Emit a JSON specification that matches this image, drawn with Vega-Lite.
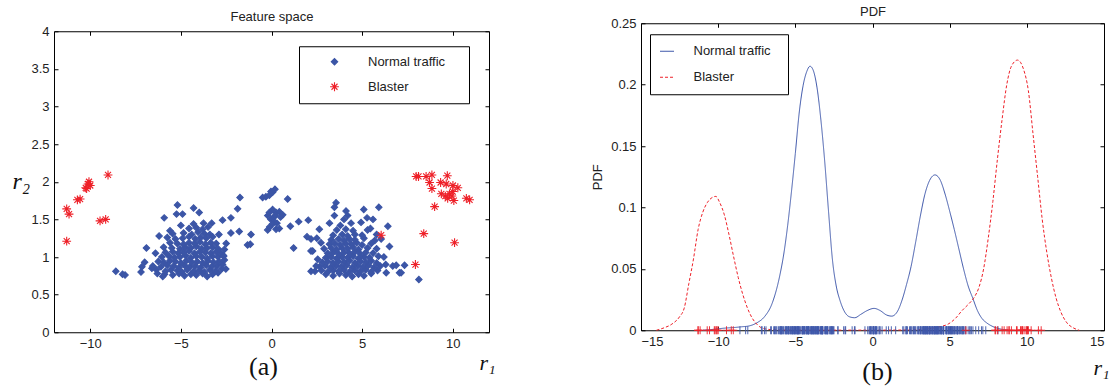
{
  "$schema": "https://vega.github.io/schema/vega-lite/v6.json",
  "padding": {"left": 11, "top": 0, "right": 0, "bottom": 0},
  "config": {
    "font": "Liberation Sans",
    "view": {"stroke": "#000", "strokeWidth": 1},
    "axis": {"grid": false, "domain": false, "tickColor": "#000", "tickSize": -4, "labelFontSize": 13, "labelFont": "Liberation Sans", "labelColor": "#222", "labelPadding": 9, "titleFontWeight": "normal", "titleColor": "#222"},
    "title": {"fontWeight": "normal", "color": "#111"}
  },
  "center": true,
  "spacing": 95,
  "resolve": {
    "scale": {"shape": "independent", "fill": "independent", "stroke": "independent", "color": "independent", "strokeDash": "independent"},
    "legend": {"shape": "independent", "fill": "independent", "stroke": "independent", "color": "independent", "strokeDash": "independent"}
  },
  "datasets": {
    "pts": [
      {"series":"Normal traffic","r1":-5.9,"r2":0.77},{"series":"Normal traffic","r1":-5.45,"r2":0.76},{"series":"Normal traffic","r1":-5.1,"r2":0.78},{"series":"Normal traffic","r1":-4.8,"r2":0.75},{"series":"Normal traffic","r1":-4.45,"r2":0.77},{"series":"Normal traffic","r1":-4.15,"r2":0.76},{"series":"Normal traffic","r1":-3.8,"r2":0.78},{"series":"Normal traffic","r1":-3.55,"r2":0.74},{"series":"Normal traffic","r1":-3.25,"r2":0.77},{"series":"Normal traffic","r1":-2.95,"r2":0.79},
      {"series":"Normal traffic","r1":-6.35,"r2":0.83},{"series":"Normal traffic","r1":-5.85,"r2":0.81},{"series":"Normal traffic","r1":-5.55,"r2":0.83},{"series":"Normal traffic","r1":-5.2,"r2":0.82},{"series":"Normal traffic","r1":-4.95,"r2":0.8},{"series":"Normal traffic","r1":-4.65,"r2":0.83},{"series":"Normal traffic","r1":-4.3,"r2":0.81},{"series":"Normal traffic","r1":-4.0,"r2":0.82},{"series":"Normal traffic","r1":-3.7,"r2":0.8},{"series":"Normal traffic","r1":-3.4,"r2":0.83},{"series":"Normal traffic","r1":-3.1,"r2":0.81},{"series":"Normal traffic","r1":-2.75,"r2":0.84},
      {"series":"Normal traffic","r1":-6.55,"r2":0.88},{"series":"Normal traffic","r1":-6.1,"r2":0.87},{"series":"Normal traffic","r1":-5.75,"r2":0.89},{"series":"Normal traffic","r1":-5.4,"r2":0.88},{"series":"Normal traffic","r1":-5.1,"r2":0.86},{"series":"Normal traffic","r1":-4.8,"r2":0.89},{"series":"Normal traffic","r1":-4.5,"r2":0.87},{"series":"Normal traffic","r1":-4.2,"r2":0.88},{"series":"Normal traffic","r1":-3.9,"r2":0.86},{"series":"Normal traffic","r1":-3.6,"r2":0.89},{"series":"Normal traffic","r1":-3.3,"r2":0.87},{"series":"Normal traffic","r1":-3.0,"r2":0.88},{"series":"Normal traffic","r1":-2.7,"r2":0.9},
      {"series":"Normal traffic","r1":-6.25,"r2":0.94},{"series":"Normal traffic","r1":-5.95,"r2":0.93},{"series":"Normal traffic","r1":-5.6,"r2":0.95},{"series":"Normal traffic","r1":-5.3,"r2":0.94},{"series":"Normal traffic","r1":-5.0,"r2":0.92},{"series":"Normal traffic","r1":-4.7,"r2":0.95},{"series":"Normal traffic","r1":-4.4,"r2":0.93},{"series":"Normal traffic","r1":-4.1,"r2":0.94},{"series":"Normal traffic","r1":-3.8,"r2":0.92},{"series":"Normal traffic","r1":-3.5,"r2":0.95},{"series":"Normal traffic","r1":-3.2,"r2":0.93},{"series":"Normal traffic","r1":-2.9,"r2":0.94},{"series":"Normal traffic","r1":-2.6,"r2":0.96},
      {"series":"Normal traffic","r1":-6.05,"r2":1.0},{"series":"Normal traffic","r1":-5.65,"r2":1.01},{"series":"Normal traffic","r1":-5.35,"r2":0.99},{"series":"Normal traffic","r1":-5.05,"r2":1.0},{"series":"Normal traffic","r1":-4.75,"r2":1.02},{"series":"Normal traffic","r1":-4.45,"r2":0.99},{"series":"Normal traffic","r1":-4.15,"r2":1.01},{"series":"Normal traffic","r1":-3.85,"r2":1.0},{"series":"Normal traffic","r1":-3.55,"r2":0.98},{"series":"Normal traffic","r1":-3.25,"r2":1.01},{"series":"Normal traffic","r1":-2.95,"r2":1.0},{"series":"Normal traffic","r1":-2.65,"r2":1.02},
      {"series":"Normal traffic","r1":-5.85,"r2":1.06},{"series":"Normal traffic","r1":-5.45,"r2":1.07},{"series":"Normal traffic","r1":-5.15,"r2":1.05},{"series":"Normal traffic","r1":-4.85,"r2":1.06},{"series":"Normal traffic","r1":-4.55,"r2":1.08},{"series":"Normal traffic","r1":-4.25,"r2":1.05},{"series":"Normal traffic","r1":-3.95,"r2":1.07},{"series":"Normal traffic","r1":-3.65,"r2":1.06},{"series":"Normal traffic","r1":-3.35,"r2":1.05},{"series":"Normal traffic","r1":-3.05,"r2":1.07},{"series":"Normal traffic","r1":-2.8,"r2":1.05},
      {"series":"Normal traffic","r1":-5.95,"r2":1.13},{"series":"Normal traffic","r1":-5.5,"r2":1.12},{"series":"Normal traffic","r1":-5.05,"r2":1.11},{"series":"Normal traffic","r1":-4.75,"r2":1.13},{"series":"Normal traffic","r1":-4.45,"r2":1.12},{"series":"Normal traffic","r1":-4.15,"r2":1.14},{"series":"Normal traffic","r1":-3.85,"r2":1.11},{"series":"Normal traffic","r1":-3.55,"r2":1.12},{"series":"Normal traffic","r1":-3.25,"r2":1.13},{"series":"Normal traffic","r1":-2.95,"r2":1.11},
      {"series":"Normal traffic","r1":-5.6,"r2":1.19},{"series":"Normal traffic","r1":-5.2,"r2":1.18},{"series":"Normal traffic","r1":-4.85,"r2":1.17},{"series":"Normal traffic","r1":-4.55,"r2":1.19},{"series":"Normal traffic","r1":-4.25,"r2":1.18},{"series":"Normal traffic","r1":-3.95,"r2":1.2},{"series":"Normal traffic","r1":-3.65,"r2":1.17},{"series":"Normal traffic","r1":-3.35,"r2":1.19},{"series":"Normal traffic","r1":-3.05,"r2":1.18},
      {"series":"Normal traffic","r1":-5.75,"r2":1.26},{"series":"Normal traffic","r1":-5.3,"r2":1.24},{"series":"Normal traffic","r1":-4.9,"r2":1.25},{"series":"Normal traffic","r1":-4.55,"r2":1.27},{"series":"Normal traffic","r1":-4.2,"r2":1.24},{"series":"Normal traffic","r1":-3.9,"r2":1.26},{"series":"Normal traffic","r1":-3.6,"r2":1.25},{"series":"Normal traffic","r1":-3.25,"r2":1.27},
      {"series":"Normal traffic","r1":-5.45,"r2":1.31},{"series":"Normal traffic","r1":-4.85,"r2":1.32},{"series":"Normal traffic","r1":-4.4,"r2":1.3},{"series":"Normal traffic","r1":-4.05,"r2":1.33},{"series":"Normal traffic","r1":-3.7,"r2":1.31},{"series":"Normal traffic","r1":-3.4,"r2":1.3},
      {"series":"Normal traffic","r1":-4.55,"r2":1.38},{"series":"Normal traffic","r1":-4.15,"r2":1.39},{"series":"Normal traffic","r1":-3.8,"r2":1.37},{"series":"Normal traffic","r1":-3.5,"r2":1.4},{"series":"Normal traffic","r1":-4.3,"r2":1.44},{"series":"Normal traffic","r1":-3.75,"r2":1.45},
      {"series":"Normal traffic","r1":-8.59,"r2":0.81},{"series":"Normal traffic","r1":-8.22,"r2":0.77},{"series":"Normal traffic","r1":-8.08,"r2":0.76},{"series":"Normal traffic","r1":-7.2,"r2":0.8},{"series":"Normal traffic","r1":-7.15,"r2":0.87},{"series":"Normal traffic","r1":-7.0,"r2":0.93},{"series":"Normal traffic","r1":-6.9,"r2":1.12},{"series":"Normal traffic","r1":-6.6,"r2":0.85},{"series":"Normal traffic","r1":-6.3,"r2":0.78},{"series":"Normal traffic","r1":-6.0,"r2":0.74},{"series":"Normal traffic","r1":-6.4,"r2":1.05},{"series":"Normal traffic","r1":-6.2,"r2":1.28},{"series":"Normal traffic","r1":-5.92,"r2":1.52},{"series":"Normal traffic","r1":-5.24,"r2":1.57},{"series":"Normal traffic","r1":-5.19,"r2":1.69},{"series":"Normal traffic","r1":-4.3,"r2":1.65},{"series":"Normal traffic","r1":-3.99,"r2":1.59},{"series":"Normal traffic","r1":-4.91,"r2":1.57},{"series":"Normal traffic","r1":-2.7,"r2":1.49},{"series":"Normal traffic","r1":-2.24,"r2":1.52},{"series":"Normal traffic","r1":-1.87,"r2":1.64},{"series":"Normal traffic","r1":-1.74,"r2":1.79},{"series":"Normal traffic","r1":-2.24,"r2":1.32},{"series":"Normal traffic","r1":-1.78,"r2":1.34},{"series":"Normal traffic","r1":-1.13,"r2":1.3},{"series":"Normal traffic","r1":-1.32,"r2":1.16},{"series":"Normal traffic","r1":-1.17,"r2":1.17},{"series":"Normal traffic","r1":-2.52,"r2":0.84},{"series":"Normal traffic","r1":-2.64,"r2":1.01},{"series":"Normal traffic","r1":-2.5,"r2":1.18},{"series":"Normal traffic","r1":-2.9,"r2":1.3},{"series":"Normal traffic","r1":-5.0,"r2":1.42},{"series":"Normal traffic","r1":-5.6,"r2":1.35},{"series":"Normal traffic","r1":-3.3,"r2":1.45},{"series":"Normal traffic","r1":-2.6,"r2":1.1},
      {"series":"Normal traffic","r1":-0.49,"r2":1.79},{"series":"Normal traffic","r1":-0.31,"r2":1.8},{"series":"Normal traffic","r1":-0.12,"r2":1.82},{"series":"Normal traffic","r1":0.06,"r2":1.86},{"series":"Normal traffic","r1":0.19,"r2":1.9},{"series":"Normal traffic","r1":-0.03,"r2":1.87},{"series":"Normal traffic","r1":-0.21,"r2":1.55},{"series":"Normal traffic","r1":-0.12,"r2":1.59},{"series":"Normal traffic","r1":0.06,"r2":1.63},{"series":"Normal traffic","r1":0.25,"r2":1.59},{"series":"Normal traffic","r1":0.43,"r2":1.6},{"series":"Normal traffic","r1":0.62,"r2":1.56},{"series":"Normal traffic","r1":-0.03,"r2":1.5},{"series":"Normal traffic","r1":0.15,"r2":1.47},{"series":"Normal traffic","r1":0.06,"r2":1.44},{"series":"Normal traffic","r1":-0.21,"r2":1.36},{"series":"Normal traffic","r1":0.25,"r2":1.37},{"series":"Normal traffic","r1":0.43,"r2":1.38},{"series":"Normal traffic","r1":0.89,"r2":1.77},{"series":"Normal traffic","r1":1.04,"r2":1.41},{"series":"Normal traffic","r1":1.22,"r2":1.12},{"series":"Normal traffic","r1":1.5,"r2":1.47},{"series":"Normal traffic","r1":2.03,"r2":1.49},{"series":"Normal traffic","r1":1.96,"r2":1.27},{"series":"Normal traffic","r1":2.18,"r2":1.24},{"series":"Normal traffic","r1":2.18,"r2":1.08},{"series":"Normal traffic","r1":0.1,"r2":1.52},{"series":"Normal traffic","r1":0.3,"r2":1.45},{"series":"Normal traffic","r1":-0.1,"r2":1.4},{"series":"Normal traffic","r1":0.2,"r2":1.55},{"series":"Normal traffic","r1":0.5,"r2":1.53},
      {"series":"Normal traffic","r1":3.0,"r2":0.77},{"series":"Normal traffic","r1":3.4,"r2":0.75},{"series":"Normal traffic","r1":3.75,"r2":0.78},{"series":"Normal traffic","r1":4.1,"r2":0.76},{"series":"Normal traffic","r1":4.45,"r2":0.74},{"series":"Normal traffic","r1":4.8,"r2":0.77},{"series":"Normal traffic","r1":5.1,"r2":0.75},{"series":"Normal traffic","r1":5.5,"r2":0.78},
      {"series":"Normal traffic","r1":2.4,"r2":0.81},{"series":"Normal traffic","r1":2.75,"r2":0.82},{"series":"Normal traffic","r1":3.1,"r2":0.8},{"series":"Normal traffic","r1":3.4,"r2":0.82},{"series":"Normal traffic","r1":3.7,"r2":0.81},{"series":"Normal traffic","r1":4.0,"r2":0.83},{"series":"Normal traffic","r1":4.3,"r2":0.8},{"series":"Normal traffic","r1":4.6,"r2":0.82},{"series":"Normal traffic","r1":4.9,"r2":0.81},{"series":"Normal traffic","r1":5.2,"r2":0.83},{"series":"Normal traffic","r1":5.5,"r2":0.8},{"series":"Normal traffic","r1":5.85,"r2":0.82},
      {"series":"Normal traffic","r1":2.65,"r2":0.87},{"series":"Normal traffic","r1":2.95,"r2":0.88},{"series":"Normal traffic","r1":3.25,"r2":0.86},{"series":"Normal traffic","r1":3.55,"r2":0.88},{"series":"Normal traffic","r1":3.85,"r2":0.87},{"series":"Normal traffic","r1":4.15,"r2":0.89},{"series":"Normal traffic","r1":4.45,"r2":0.86},{"series":"Normal traffic","r1":4.75,"r2":0.88},{"series":"Normal traffic","r1":5.05,"r2":0.87},{"series":"Normal traffic","r1":5.35,"r2":0.89},{"series":"Normal traffic","r1":5.65,"r2":0.86},{"series":"Normal traffic","r1":6.0,"r2":0.88},
      {"series":"Normal traffic","r1":2.8,"r2":0.93},{"series":"Normal traffic","r1":3.1,"r2":0.94},{"series":"Normal traffic","r1":3.4,"r2":0.92},{"series":"Normal traffic","r1":3.7,"r2":0.94},{"series":"Normal traffic","r1":4.0,"r2":0.93},{"series":"Normal traffic","r1":4.3,"r2":0.95},{"series":"Normal traffic","r1":4.6,"r2":0.92},{"series":"Normal traffic","r1":4.9,"r2":0.94},{"series":"Normal traffic","r1":5.2,"r2":0.93},{"series":"Normal traffic","r1":5.5,"r2":0.95},{"series":"Normal traffic","r1":5.8,"r2":0.92},
      {"series":"Normal traffic","r1":3.0,"r2":0.99},{"series":"Normal traffic","r1":3.3,"r2":1.0},{"series":"Normal traffic","r1":3.6,"r2":0.98},{"series":"Normal traffic","r1":3.9,"r2":1.0},{"series":"Normal traffic","r1":4.2,"r2":0.99},{"series":"Normal traffic","r1":4.5,"r2":1.01},{"series":"Normal traffic","r1":4.8,"r2":0.98},{"series":"Normal traffic","r1":5.1,"r2":1.0},{"series":"Normal traffic","r1":5.4,"r2":0.99},{"series":"Normal traffic","r1":5.9,"r2":1.01},
      {"series":"Normal traffic","r1":3.1,"r2":1.05},{"series":"Normal traffic","r1":3.4,"r2":1.06},{"series":"Normal traffic","r1":3.7,"r2":1.04},{"series":"Normal traffic","r1":4.0,"r2":1.06},{"series":"Normal traffic","r1":4.3,"r2":1.05},{"series":"Normal traffic","r1":4.6,"r2":1.07},{"series":"Normal traffic","r1":4.9,"r2":1.04},{"series":"Normal traffic","r1":5.2,"r2":1.06},{"series":"Normal traffic","r1":5.6,"r2":1.05},
      {"series":"Normal traffic","r1":2.9,"r2":1.11},{"series":"Normal traffic","r1":3.3,"r2":1.12},{"series":"Normal traffic","r1":3.6,"r2":1.1},{"series":"Normal traffic","r1":3.9,"r2":1.12},{"series":"Normal traffic","r1":4.2,"r2":1.11},{"series":"Normal traffic","r1":4.5,"r2":1.13},{"series":"Normal traffic","r1":4.8,"r2":1.1},{"series":"Normal traffic","r1":5.3,"r2":1.12},{"series":"Normal traffic","r1":5.8,"r2":1.11},
      {"series":"Normal traffic","r1":3.2,"r2":1.17},{"series":"Normal traffic","r1":3.5,"r2":1.18},{"series":"Normal traffic","r1":3.8,"r2":1.16},{"series":"Normal traffic","r1":4.1,"r2":1.18},{"series":"Normal traffic","r1":4.4,"r2":1.17},{"series":"Normal traffic","r1":4.7,"r2":1.19},{"series":"Normal traffic","r1":5.0,"r2":1.16},{"series":"Normal traffic","r1":5.5,"r2":1.18},
      {"series":"Normal traffic","r1":3.3,"r2":1.23},{"series":"Normal traffic","r1":3.7,"r2":1.24},{"series":"Normal traffic","r1":4.0,"r2":1.22},{"series":"Normal traffic","r1":4.3,"r2":1.24},{"series":"Normal traffic","r1":4.6,"r2":1.23},{"series":"Normal traffic","r1":5.1,"r2":1.25},{"series":"Normal traffic","r1":5.7,"r2":1.22},
      {"series":"Normal traffic","r1":3.4,"r2":1.29},{"series":"Normal traffic","r1":3.9,"r2":1.3},{"series":"Normal traffic","r1":4.2,"r2":1.28},{"series":"Normal traffic","r1":4.6,"r2":1.3},{"series":"Normal traffic","r1":5.0,"r2":1.29},{"series":"Normal traffic","r1":3.6,"r2":1.36},{"series":"Normal traffic","r1":4.1,"r2":1.37},{"series":"Normal traffic","r1":4.5,"r2":1.35},{"series":"Normal traffic","r1":5.3,"r2":1.36},
      {"series":"Normal traffic","r1":3.56,"r2":1.72},{"series":"Normal traffic","r1":3.47,"r2":1.66},{"series":"Normal traffic","r1":4.11,"r2":1.61},{"series":"Normal traffic","r1":4.2,"r2":1.55},{"series":"Normal traffic","r1":5.09,"r2":1.63},{"series":"Normal traffic","r1":5.27,"r2":1.52},{"series":"Normal traffic","r1":5.92,"r2":1.66},{"series":"Normal traffic","r1":6.42,"r2":1.41},{"series":"Normal traffic","r1":2.64,"r2":1.37},{"series":"Normal traffic","r1":2.73,"r2":1.19},{"series":"Normal traffic","r1":3.47,"r2":1.55},{"series":"Normal traffic","r1":4.39,"r2":1.45},{"series":"Normal traffic","r1":4.94,"r2":1.46},{"series":"Normal traffic","r1":5.46,"r2":1.38},{"series":"Normal traffic","r1":6.05,"r2":1.24},{"series":"Normal traffic","r1":6.51,"r2":1.14},{"series":"Normal traffic","r1":6.69,"r2":0.88},{"series":"Normal traffic","r1":6.88,"r2":0.89},{"series":"Normal traffic","r1":7.06,"r2":0.79},{"series":"Normal traffic","r1":7.34,"r2":0.89},{"series":"Normal traffic","r1":7.15,"r2":0.79},{"series":"Normal traffic","r1":8.13,"r2":0.7},{"series":"Normal traffic","r1":6.33,"r2":0.79},{"series":"Normal traffic","r1":2.18,"r2":0.81},{"series":"Normal traffic","r1":2.46,"r2":0.88},{"series":"Normal traffic","r1":2.55,"r2":0.97},{"series":"Normal traffic","r1":2.27,"r2":1.08},{"series":"Normal traffic","r1":4.0,"r2":1.5},{"series":"Normal traffic","r1":3.2,"r2":1.45},{"series":"Normal traffic","r1":5.6,"r2":1.5},{"series":"Normal traffic","r1":6.2,"r2":1.0},{"series":"Normal traffic","r1":6.3,"r2":0.9},{"series":"Normal traffic","r1":2.5,"r2":1.25},{"series":"Normal traffic","r1":3.8,"r2":1.42},{"series":"Normal traffic","r1":5.8,"r2":1.3},
      {"series":"Blaster","r1":-11.3,"r2":1.64},{"series":"Blaster","r1":-11.17,"r2":1.57},{"series":"Blaster","r1":-11.3,"r2":1.21},{"series":"Blaster","r1":-10.71,"r2":1.76},{"series":"Blaster","r1":-10.56,"r2":1.77},{"series":"Blaster","r1":-10.25,"r2":1.92},{"series":"Blaster","r1":-10.12,"r2":1.97},{"series":"Blaster","r1":-10.07,"r2":2.0},{"series":"Blaster","r1":-10.2,"r2":1.91},{"series":"Blaster","r1":-10.0,"r2":1.95},{"series":"Blaster","r1":-9.02,"r2":2.09},{"series":"Blaster","r1":-9.46,"r2":1.48},{"series":"Blaster","r1":-9.15,"r2":1.5},
      {"series":"Blaster","r1":6.05,"r2":1.29},{"series":"Blaster","r1":7.94,"r2":0.9},{"series":"Blaster","r1":8.4,"r2":1.31},{"series":"Blaster","r1":10.1,"r2":1.19},{"series":"Blaster","r1":7.98,"r2":2.07},{"series":"Blaster","r1":8.11,"r2":2.07},{"series":"Blaster","r1":8.53,"r2":2.07},{"series":"Blaster","r1":8.85,"r2":2.09},{"series":"Blaster","r1":8.72,"r2":1.99},{"series":"Blaster","r1":8.85,"r2":1.91},{"series":"Blaster","r1":9.33,"r2":1.99},{"series":"Blaster","r1":9.7,"r2":2.08},{"series":"Blaster","r1":9.64,"r2":1.97},{"series":"Blaster","r1":10.01,"r2":1.95},{"series":"Blaster","r1":10.28,"r2":1.92},{"series":"Blaster","r1":9.37,"r2":1.84},{"series":"Blaster","r1":9.59,"r2":1.81},{"series":"Blaster","r1":9.82,"r2":1.84},{"series":"Blaster","r1":9.95,"r2":1.81},{"series":"Blaster","r1":10.06,"r2":1.75},{"series":"Blaster","r1":9.0,"r2":1.67},{"series":"Blaster","r1":10.75,"r2":1.78},{"series":"Blaster","r1":10.93,"r2":1.76},{"series":"Blaster","r1":9.72,"r2":1.78},{"series":"Blaster","r1":10.0,"r2":1.87}
    ],
    "pdf": [
      {"series":"Normal traffic","r1":-11,"pdf":0},{"series":"Normal traffic","r1":-10.5,"pdf":0.0005},{"series":"Normal traffic","r1":-10,"pdf":0.0012},{"series":"Normal traffic","r1":-9.5,"pdf":0.0018},{"series":"Normal traffic","r1":-9,"pdf":0.0022},{"series":"Normal traffic","r1":-8.5,"pdf":0.0028},{"series":"Normal traffic","r1":-8,"pdf":0.0035},{"series":"Normal traffic","r1":-7.5,"pdf":0.006},{"series":"Normal traffic","r1":-7,"pdf":0.011},{"series":"Normal traffic","r1":-6.5,"pdf":0.022},{"series":"Normal traffic","r1":-6,"pdf":0.045},{"series":"Normal traffic","r1":-5.75,"pdf":0.062},{"series":"Normal traffic","r1":-5.5,"pdf":0.085},{"series":"Normal traffic","r1":-5.25,"pdf":0.113},{"series":"Normal traffic","r1":-5,"pdf":0.144},{"series":"Normal traffic","r1":-4.75,"pdf":0.177},{"series":"Normal traffic","r1":-4.5,"pdf":0.199},{"series":"Normal traffic","r1":-4.25,"pdf":0.211},{"series":"Normal traffic","r1":-4.05,"pdf":0.215},{"series":"Normal traffic","r1":-3.85,"pdf":0.212},{"series":"Normal traffic","r1":-3.6,"pdf":0.198},{"series":"Normal traffic","r1":-3.35,"pdf":0.172},{"series":"Normal traffic","r1":-3.1,"pdf":0.138},{"series":"Normal traffic","r1":-2.85,"pdf":0.097},{"series":"Normal traffic","r1":-2.6,"pdf":0.058},{"series":"Normal traffic","r1":-2.35,"pdf":0.036},{"series":"Normal traffic","r1":-2.1,"pdf":0.024},{"series":"Normal traffic","r1":-1.85,"pdf":0.016},{"series":"Normal traffic","r1":-1.5,"pdf":0.011},{"series":"Normal traffic","r1":-1.15,"pdf":0.0102},{"series":"Normal traffic","r1":-0.75,"pdf":0.013},{"series":"Normal traffic","r1":-0.35,"pdf":0.016},{"series":"Normal traffic","r1":0.1,"pdf":0.0178},{"series":"Normal traffic","r1":0.5,"pdf":0.016},{"series":"Normal traffic","r1":0.9,"pdf":0.0125},{"series":"Normal traffic","r1":1.25,"pdf":0.0115},{"series":"Normal traffic","r1":1.6,"pdf":0.015},{"series":"Normal traffic","r1":1.9,"pdf":0.024},{"series":"Normal traffic","r1":2.2,"pdf":0.037},{"series":"Normal traffic","r1":2.5,"pdf":0.052},{"series":"Normal traffic","r1":2.8,"pdf":0.072},{"series":"Normal traffic","r1":3.1,"pdf":0.093},{"series":"Normal traffic","r1":3.4,"pdf":0.111},{"series":"Normal traffic","r1":3.7,"pdf":0.122},{"series":"Normal traffic","r1":4.05,"pdf":0.1265},{"series":"Normal traffic","r1":4.4,"pdf":0.122},{"series":"Normal traffic","r1":4.7,"pdf":0.111},{"series":"Normal traffic","r1":5,"pdf":0.097},{"series":"Normal traffic","r1":5.3,"pdf":0.082},{"series":"Normal traffic","r1":5.6,"pdf":0.066},{"series":"Normal traffic","r1":5.9,"pdf":0.05},{"series":"Normal traffic","r1":6.2,"pdf":0.036},{"series":"Normal traffic","r1":6.5,"pdf":0.026},{"series":"Normal traffic","r1":6.8,"pdf":0.016},{"series":"Normal traffic","r1":7.1,"pdf":0.0095},{"series":"Normal traffic","r1":7.4,"pdf":0.006},{"series":"Normal traffic","r1":7.8,"pdf":0.003},{"series":"Normal traffic","r1":8.3,"pdf":0.001},{"series":"Normal traffic","r1":8.8,"pdf":0},
      {"series":"Blaster","r1":-14,"pdf":0},{"series":"Blaster","r1":-13.5,"pdf":0.002},{"series":"Blaster","r1":-13,"pdf":0.005},{"series":"Blaster","r1":-12.5,"pdf":0.011},{"series":"Blaster","r1":-12.2,"pdf":0.018},{"series":"Blaster","r1":-11.9,"pdf":0.038},{"series":"Blaster","r1":-11.6,"pdf":0.058},{"series":"Blaster","r1":-11.3,"pdf":0.082},{"series":"Blaster","r1":-11,"pdf":0.096},{"series":"Blaster","r1":-10.7,"pdf":0.104},{"series":"Blaster","r1":-10.4,"pdf":0.108},{"series":"Blaster","r1":-10.15,"pdf":0.109},{"series":"Blaster","r1":-9.9,"pdf":0.104},{"series":"Blaster","r1":-9.6,"pdf":0.094},{"series":"Blaster","r1":-9.3,"pdf":0.078},{"series":"Blaster","r1":-9,"pdf":0.06},{"series":"Blaster","r1":-8.7,"pdf":0.043},{"series":"Blaster","r1":-8.4,"pdf":0.029},{"series":"Blaster","r1":-8.1,"pdf":0.018},{"series":"Blaster","r1":-7.8,"pdf":0.01},{"series":"Blaster","r1":-7.5,"pdf":0.005},{"series":"Blaster","r1":-7.2,"pdf":0.002},{"series":"Blaster","r1":-6.8,"pdf":0.0008},{"series":"Blaster","r1":-6,"pdf":0.0002},{"series":"Blaster","r1":-4,"pdf":0.0001},{"series":"Blaster","r1":-2,"pdf":0.0001},{"series":"Blaster","r1":0,"pdf":0.0001},{"series":"Blaster","r1":2,"pdf":0.0002},{"series":"Blaster","r1":3,"pdf":0.0005},{"series":"Blaster","r1":3.8,"pdf":0.0015},{"series":"Blaster","r1":4.4,"pdf":0.003},{"series":"Blaster","r1":4.9,"pdf":0.005},{"series":"Blaster","r1":5.4,"pdf":0.01},{"series":"Blaster","r1":5.8,"pdf":0.016},{"series":"Blaster","r1":6.2,"pdf":0.021},{"series":"Blaster","r1":6.6,"pdf":0.027},{"series":"Blaster","r1":6.9,"pdf":0.035},{"series":"Blaster","r1":7.2,"pdf":0.05},{"series":"Blaster","r1":7.5,"pdf":0.075},{"series":"Blaster","r1":7.8,"pdf":0.105},{"series":"Blaster","r1":8.1,"pdf":0.14},{"series":"Blaster","r1":8.4,"pdf":0.172},{"series":"Blaster","r1":8.7,"pdf":0.2},{"series":"Blaster","r1":9,"pdf":0.215},{"series":"Blaster","r1":9.4,"pdf":0.22},{"series":"Blaster","r1":9.8,"pdf":0.212},{"series":"Blaster","r1":10.1,"pdf":0.195},{"series":"Blaster","r1":10.4,"pdf":0.16},{"series":"Blaster","r1":10.7,"pdf":0.125},{"series":"Blaster","r1":11,"pdf":0.09},{"series":"Blaster","r1":11.3,"pdf":0.063},{"series":"Blaster","r1":11.6,"pdf":0.042},{"series":"Blaster","r1":11.9,"pdf":0.026},{"series":"Blaster","r1":12.2,"pdf":0.015},{"series":"Blaster","r1":12.6,"pdf":0.006},{"series":"Blaster","r1":13,"pdf":0.002},{"series":"Blaster","r1":13.4,"pdf":0}
    ]
  },
  "hconcat": [
    {
      "resolve": {
        "scale": {"shape": "independent", "fill": "independent", "stroke": "independent"},
        "legend": {"shape": "independent", "fill": "independent", "stroke": "independent"}
      },
      "vconcat": [
        {
          "width": 435,
          "height": 301,
          "title": {"text": "(a)", "orient": "bottom", "frame": "group", "anchor": "middle", "font": "Liberation Serif", "fontSize": 26, "fontWeight": "normal", "color": "#111", "offset": -19, "dx": -8},
          "layer": [
            {
              "data": {"name": "pts"},
              "mark": {"type": "point", "size": 64, "strokeWidth": 1.1, "opacity": 1},
              "encoding": {
                "x": {"field": "r1", "type": "quantitative", "scale": {"domain": [-12, 12], "nice": false, "zero": false},
                  "axis": {"orient": "bottom", "values": [-10, -5, 0, 5, 10], "title": "r₁", "titleX": 425, "titleY": 30, "titleAlign": "left", "titleBaseline": "middle", "titleAngle": 0, "titleFont": "Liberation Serif", "titleFontStyle": "italic", "titleFontSize": 22, "titleColor": "#111"}},
                "y": {"field": "r2", "type": "quantitative", "scale": {"domain": [0, 4], "nice": false, "zero": false},
                  "axis": {"orient": "left", "values": [0, 0.5, 1, 1.5, 2, 2.5, 3, 3.5, 4], "format": "~g", "title": "r₂", "titleX": -42, "titleY": 150, "titleAlign": "left", "titleBaseline": "middle", "titleAngle": 0, "titleFont": "Liberation Serif", "titleFontStyle": "italic", "titleFontSize": 24, "titleColor": "#111"}},
                "shape": {"field": "series", "type": "nominal", "scale": {"domain": ["Normal traffic", "Blaster"], "range": ["M-0.8,0L0,-0.8L0.8,0L0,0.8Z", "M-1.1,0L1.1,0M0,-1.1L0,1.1M-0.75,-0.75L0.75,0.75M-0.75,0.75L0.75,-0.75"]},
                  "legend": {"orient": "none", "legendX": 245, "legendY": 15, "title": "\u00a0", "titleOrient": "right", "titlePadding": 15, "strokeColor": "#000", "fillColor": "#fff", "padding": 9, "rowPadding": 10, "symbolOffset": 20, "labelOffset": 27, "labelFontSize": 13, "labelFont": "Liberation Sans", "labelColor": "#222", "symbolSize": 64, "symbolStrokeWidth": 1.1}},
                "fill": {"field": "series", "type": "nominal", "scale": {"domain": ["Normal traffic", "Blaster"], "range": ["#3b55a6", "transparent"]},
                  "legend": {"orient": "none", "legendX": 245, "legendY": 15, "title": "\u00a0", "titleOrient": "right", "titlePadding": 15, "strokeColor": "#000", "fillColor": "#fff", "padding": 9, "rowPadding": 10, "symbolOffset": 20, "labelOffset": 27, "labelFontSize": 13, "labelFont": "Liberation Sans", "labelColor": "#222", "symbolSize": 64, "symbolStrokeWidth": 1.1}},
                "stroke": {"field": "series", "type": "nominal", "scale": {"domain": ["Normal traffic", "Blaster"], "range": ["#3b55a6", "#ee2028"]},
                  "legend": {"orient": "none", "legendX": 245, "legendY": 15, "title": "\u00a0", "titleOrient": "right", "titlePadding": 15, "strokeColor": "#000", "fillColor": "#fff", "padding": 9, "rowPadding": 10, "symbolOffset": 20, "labelOffset": 27, "labelFontSize": 13, "labelFont": "Liberation Sans", "labelColor": "#222", "symbolSize": 64, "symbolStrokeWidth": 1.1}}
              }
            },
            {
              "data": {"name": "pts"},
              "mark": {"type": "point", "opacity": 0},
              "encoding": {
                "x": {"field": "r1", "type": "quantitative", "scale": {"domain": [-12, 12], "nice": false, "zero": false},
                  "axis": {"orient": "top", "values": [-10, -5, 0, 5, 10], "labelOpacity": 0, "labelPadding": 20, "title": "Feature space", "titleY": -15, "titleBaseline": "middle", "titleFont": "Liberation Sans", "titleFontSize": 13, "titleFontWeight": "normal", "titleColor": "#222"}},
                "y": {"field": "r2", "type": "quantitative", "scale": {"domain": [0, 4], "nice": false, "zero": false},
                  "axis": {"orient": "right", "values": [0, 0.5, 1, 1.5, 2, 2.5, 3, 3.5, 4], "labels": false, "title": null}}
              }
            }
          ]
        }
      ]
    },
    {
      "resolve": {
        "scale": {"color": "independent", "strokeDash": "independent"},
        "legend": {"color": "independent", "strokeDash": "independent"}
      },
      "vconcat": [
        {
          "width": 463,
          "height": 307,
          "title": {"text": "(b)", "subtitle": "\u00a0", "subtitleFontSize": 2, "subtitlePadding": 1, "orient": "bottom", "frame": "group", "anchor": "middle", "font": "Liberation Serif", "fontSize": 26, "fontWeight": "normal", "color": "#111", "offset": -19, "dx": 5},
          "layer": [
            {
              "data": {"name": "pdf"},
              "mark": {"type": "line", "strokeWidth": 1, "interpolate": "monotone"},
              "encoding": {
                "x": {"field": "r1", "type": "quantitative", "scale": {"domain": [-15, 15], "nice": false, "zero": false},
                  "axis": {"orient": "bottom", "values": [-15, -10, -5, 0, 5, 10, 15], "title": "r₁", "titleX": 452, "titleY": 37, "titleAlign": "left", "titleBaseline": "middle", "titleAngle": 0, "titleFont": "Liberation Serif", "titleFontStyle": "italic", "titleFontSize": 22, "titleColor": "#111"}},
                "y": {"field": "pdf", "type": "quantitative", "scale": {"domain": [0, 0.25], "nice": false, "zero": false},
                  "axis": {"orient": "left", "values": [0, 0.05, 0.1, 0.15, 0.2, 0.25], "format": "~g", "title": "PDF", "titleFont": "Liberation Sans", "titleFontSize": 13, "titlePadding": 6}},
                "color": {"field": "series", "type": "nominal", "scale": {"domain": ["Normal traffic", "Blaster"], "range": ["#3f58ab", "#ee2028"]},
                  "legend": {"orient": "none", "legendX": 9, "legendY": 11, "title": "\u00a0", "titleOrient": "right", "titlePadding": 8, "strokeColor": "#000", "fillColor": "#fff", "padding": 9.5, "rowPadding": 11, "symbolType": "stroke", "symbolSize": 196, "symbolStrokeWidth": 1, "labelOffset": 19, "labelFontSize": 13, "labelFont": "Liberation Sans", "labelColor": "#222"}},
                "strokeDash": {"field": "series", "type": "nominal", "scale": {"domain": ["Normal traffic", "Blaster"], "range": [[1, 0], [3, 2]]},
                  "legend": {"orient": "none", "legendX": 9, "legendY": 11, "title": "\u00a0", "titleOrient": "right", "titlePadding": 8, "strokeColor": "#000", "fillColor": "#fff", "padding": 9.5, "rowPadding": 11, "symbolType": "stroke", "symbolSize": 196, "symbolStrokeWidth": 1, "labelOffset": 19, "labelFontSize": 13, "labelFont": "Liberation Sans", "labelColor": "#222"}}
              }
            },
            {
              "data": {"name": "pts"},
              "transform": [{"filter": "datum.series === 'Normal traffic'"}],
              "mark": {"type": "point", "shape": "M0,-1L0,1", "size": 64, "stroke": "#3f58ab", "strokeWidth": 1, "filled": false, "opacity": 0.9},
              "encoding": {
                "x": {"field": "r1", "type": "quantitative", "axis": null},
                "y": {"datum": 0, "type": "quantitative", "axis": null}
              }
            },
            {
              "data": {"name": "pts"},
              "transform": [{"filter": "datum.series === 'Blaster'"}],
              "mark": {"type": "point", "shape": "M-1,0L1,0M0,-1L0,1", "size": 64, "stroke": "#ee2028", "strokeWidth": 1, "filled": false, "opacity": 0.9},
              "encoding": {
                "x": {"field": "r1", "type": "quantitative", "axis": null},
                "y": {"datum": 0, "type": "quantitative", "axis": null}
              }
            },
            {
              "data": {"name": "pdf"},
              "mark": {"type": "point", "opacity": 0},
              "encoding": {
                "x": {"field": "r1", "type": "quantitative", "scale": {"domain": [-15, 15], "nice": false, "zero": false},
                  "axis": {"orient": "top", "values": [-15, -10, -5, 0, 5, 10, 15], "labelOpacity": 0, "labelPadding": 13, "title": "PDF", "titleY": -12, "titleBaseline": "middle", "titleFont": "Liberation Sans", "titleFontSize": 13, "titleFontWeight": "normal", "titleColor": "#222"}},
                "y": {"field": "pdf", "type": "quantitative", "scale": {"domain": [0, 0.25], "nice": false, "zero": false},
                  "axis": {"orient": "right", "values": [0, 0.05, 0.1, 0.15, 0.2, 0.25], "labels": false, "title": null}}
              }
            }
          ]
        }
      ]
    }
  ]
}
